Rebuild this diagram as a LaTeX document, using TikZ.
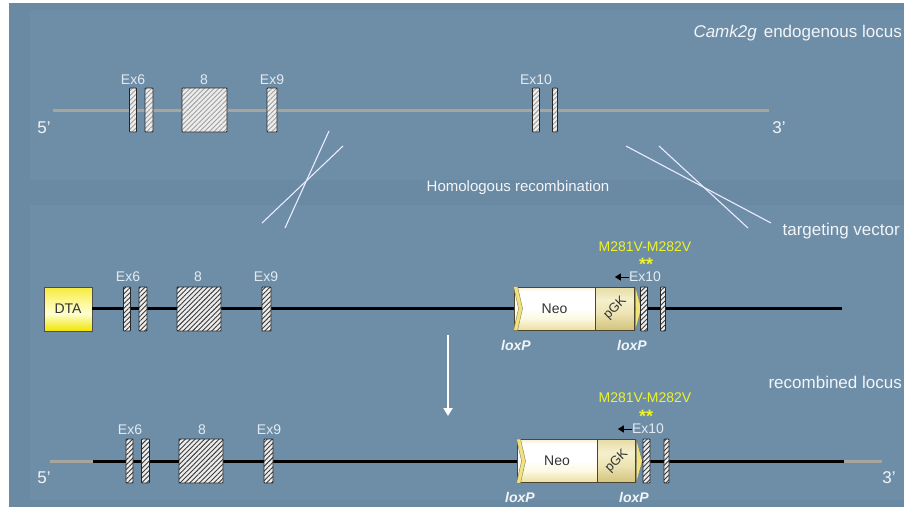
\documentclass[tikz,border=0pt]{standalone}
\usepackage{fontspec}
\setmainfont{Liberation Sans}
\usetikzlibrary{patterns.meta,arrows.meta,calc}
\definecolor{bg}{HTML}{6A8AA4}
\definecolor{panel}{HTML}{6E8EA8}
\definecolor{labcol}{HTML}{E4EAF0}
\definecolor{whitetxt}{HTML}{F2F5F8}
\definecolor{ylw}{RGB}{240,242,40}
\definecolor{greyline}{HTML}{A8A49E}
\definecolor{exfill}{HTML}{EDEDED}
\definecolor{exdark}{HTML}{3A3A3A}
\definecolor{olive}{HTML}{4A4630}
\definecolor{loxy}{HTML}{F2E27A}
\definecolor{dtaA}{RGB}{240,228,0}
\definecolor{dtaB}{RGB}{255,255,210}
\definecolor{dtaC}{RGB}{252,246,140}
\definecolor{dtaD}{RGB}{245,235,60}
\definecolor{neoA}{RGB}{237,222,160}
\definecolor{neoB}{RGB}{252,248,225}
\definecolor{neoC}{RGB}{255,255,255}
\definecolor{neoD}{RGB}{247,240,210}
\definecolor{pgkA}{RGB}{210,195,125}
\definecolor{pgkB}{RGB}{237,228,180}
\definecolor{pgkC}{RGB}{245,240,205}
\definecolor{pgkD}{RGB}{230,220,165}
\pgfdeclareverticalshading{dtashade}{100bp}{%
  color(0bp)=(dtaA); color(25bp)=(dtaA); color(45bp)=(dtaB);
  color(60bp)=(dtaC); color(75bp)=(dtaD); color(100bp)=(dtaD)}
\pgfdeclareverticalshading{neoshade}{100bp}{%
  color(0bp)=(neoA); color(25bp)=(neoA); color(38bp)=(neoB);
  color(50bp)=(neoC); color(70bp)=(neoC); color(75bp)=(neoD); color(100bp)=(neoD)}
\pgfdeclareverticalshading{pgkshade}{100bp}{%
  color(0bp)=(pgkA); color(25bp)=(pgkA); color(45bp)=(pgkB);
  color(60bp)=(pgkC); color(75bp)=(pgkD); color(100bp)=(pgkD)}
\tikzset{
  exon/.style={draw=black!85, line width=0.9pt, rounded corners=0.8pt, inner sep=0pt,
    minimum height=44pt, preaction={fill=exfill},
    pattern={Lines[angle=45,distance=3.4pt,line width=0.9pt]}, pattern color=exdark},
  topexon/.style={exon, pattern color=gray!75},
  exlab/.style={text=labcol, font=\fontsize{14}{14}\selectfont, inner sep=0pt},
  endlab/.style={text=whitetxt, font=\fontsize{17}{17}\selectfont, inner sep=0pt},
  biglab/.style={text=whitetxt, font=\fontsize{17}{17}\selectfont, inner sep=0pt},
  mutlab/.style={text=ylw, font=\fontsize{14}{14}\selectfont, inner sep=0pt},
  starlab/.style={text=ylw, font=\bfseries\fontsize{18}{18}\selectfont, inner sep=0pt},
  loxlab/.style={text=whitetxt, font=\bfseries\itshape\fontsize{14}{14}\selectfont, inner sep=0pt},
  grayDNA/.style={draw=greyline, line width=3pt},
  blackDNA/.style={draw=black, line width=3pt},
  cross/.style={draw=white!92!blue, line width=1.1pt},
  neobox/.style={draw=olive, line width=0.9pt, inner sep=0pt, minimum height=43pt,
    shading=neoshade, text=black!80, font=\fontsize{14}{14}\selectfont},
  pgkbox/.style={draw=olive, line width=0.9pt, inner sep=0pt, minimum height=43pt,
    shading=pgkshade},
  pgklab/.style={rotate=45, inner sep=0pt, text=black!80, font=\fontsize{13}{13}\selectfont},
  dtabox/.style={draw=black!70, line width=0.9pt, inner sep=0pt, minimum width=48pt, minimum height=44pt,
    shading=dtashade, text=black!80, font=\fontsize{14}{14}\selectfont},
  loxshape/.style={fill=loxy, draw=olive!70, line width=0.4pt},
  smallarrow/.style={draw=black, line width=1pt, -{Triangle[length=6pt,width=7pt]}},
  bigarrow/.style={draw=white, line width=2pt, -{Triangle[length=8pt,width=9pt]}}
}
\begin{document}
\begin{tikzpicture}[x=1pt,y=-1pt]
\useasboundingbox (0,0) rectangle (904,514);
% background
\fill[white] (0,0) rectangle (904,514);
\fill[bg] (9,3) rectangle (904,507);
\fill[panel] (30,10) rectangle (904,180);
\fill[panel] (30,205) rectangle (904,500);

% ---------- endogenous locus ----------
\node[anchor=east, biglab] (title) at (902,33) {\textit{Camk2g}\hspace{7pt}endogenous locus};
\coordinate (t5end) at (53,110);
\coordinate (t3end) at (769,110);
\draw[grayDNA] (t5end) -- (t3end);
\node[endlab] (t5) at (44,128) {5'};
\node[endlab] (t3) at (779,128) {3'};
\node[topexon, minimum width=7pt] (t6a) at (133,110) {};
\node[topexon, minimum width=8pt] (t6b) at (149,110) {};
\node[topexon, minimum width=45pt] (t8) at (204.5,110) {};
\node[topexon, minimum width=10pt] (t9) at (272,110) {};
\node[topexon, minimum width=7pt] (t10a) at (536,110) {};
\node[topexon, minimum width=5pt] (t10b) at (555,110) {};
\node[exlab] (lt6) at (133,80) {Ex6};
\node[exlab] (lt8) at (204,80) {8};
\node[exlab] (lt9) at (272,80) {Ex9};
\node[exlab] (lt10) at (536,80) {Ex10};

% crossing lines
\coordinate (c1a) at (329,131); \coordinate (c1b) at (285,228);
\coordinate (c2a) at (343,146); \coordinate (c2b) at (262,223);
\coordinate (c3a) at (626,146); \coordinate (c3b) at (771,223);
\coordinate (c4a) at (659,146); \coordinate (c4b) at (748,228);
\draw[cross] (c1a) -- (c1b);
\draw[cross] (c2a) -- (c2b);
\draw[cross] (c3a) -- (c3b);
\draw[cross] (c4a) -- (c4b);
\node[text=whitetxt, font=\fontsize{15}{15}\selectfont, inner sep=0pt] (hr) at (518,188) {Homologous recombination};
\node[anchor=east, biglab] (tv) at (900,231) {targeting vector};

% ---------- targeting vector ----------
\node[dtabox] (dta) at (68,309) {DTA};
\coordinate (m3end) at (842,308);
\draw[blackDNA] (dta.east |- 0,308) -- (m3end);
\node[exon, minimum width=7pt] (m6a) at (127,309) {};
\node[exon, minimum width=8pt] (m6b) at (143,309) {};
\node[exon, minimum width=44pt] (m8) at (199,309) {};
\node[exon, minimum width=9pt] (m9) at (266.5,309) {};
\node[neobox, minimum width=81pt] (mneo) at (554.5,308.5) {Neo};
\node[pgkbox, minimum width=39pt, anchor=west] (mpgk) at (mneo.east) {};
\node[pgklab] (mpgkt) at (mpgk.center) {pGK};
\fill[loxshape] (mneo.north west) -- ++(4,0) -- ([xshift=9pt]mneo.west) -- ([xshift=4pt]mneo.south west) -- (mneo.south west) -- ([xshift=5pt]mneo.west) -- cycle;
\fill[loxshape] (mpgk.north east) -- ([xshift=6pt]mpgk.east) -- (mpgk.south east) -- cycle;
\node[exon, minimum width=7pt] (m10a) at (644,309) {};
\node[exon, minimum width=5pt] (m10b) at (663,309) {};
\node[exlab] (lm6) at (128,277) {Ex6};
\node[exlab] (lm8) at (198,277) {8};
\node[exlab] (lm9) at (266,277) {Ex9};
\node[exlab] (lm10) at (645,277) {Ex10};
\draw[smallarrow] (lm10.west) -- ++(-14,0);
\node[starlab] (ms) at (646,264) {**};
\node[mutlab] (mm) at (645,247) {M281V-M282V};
\node[loxlab] (mlx1) at (516,345) {loxP};
\node[loxlab] (mlx2) at (632,345) {loxP};

% arrow
\coordinate (arA) at (448,335);
\coordinate (arB) at (448,416);
\draw[bigarrow] (arA) -- (arB);

% ---------- recombined locus ----------
\node[anchor=east, biglab] (rl) at (902,382) {recombined locus};
\coordinate (b5end) at (50,461);
\coordinate (b5j) at (93,461);
\coordinate (b3j) at (844,461);
\coordinate (b3end) at (882,461);
\draw[grayDNA] (b5end) -- (b5j);
\draw[blackDNA] (b5j) -- (b3j);
\draw[grayDNA] (b3j) -- (b3end);
\node[endlab] (b5) at (44,478) {5'};
\node[endlab] (b3) at (889,478) {3'};
\node[exon, minimum width=7pt] (b6a) at (129.5,461) {};
\node[exon, minimum width=8pt] (b6b) at (145.5,461) {};
\node[exon, minimum width=44pt] (b8) at (201,461) {};
\node[exon, minimum width=9pt] (b9) at (268.5,461) {};
\node[neobox, minimum width=80pt] (bneo) at (557,461) {Neo};
\node[pgkbox, minimum width=38pt, anchor=west] (bpgk) at (bneo.east) {};
\node[pgklab] (bpgkt) at (bpgk.center) {pGK};
\fill[loxshape] (bneo.north west) -- ++(4,0) -- ([xshift=9pt]bneo.west) -- ([xshift=4pt]bneo.south west) -- (bneo.south west) -- ([xshift=5pt]bneo.west) -- cycle;
\fill[loxshape] (bpgk.north east) -- ([xshift=6pt]bpgk.east) -- (bpgk.south east) -- cycle;
\node[exon, minimum width=7pt] (b10a) at (646.5,461) {};
\node[exon, minimum width=5pt] (b10b) at (666.5,461) {};
\node[exlab] (lb6) at (130,430) {Ex6};
\node[exlab] (lb8) at (202,430) {8};
\node[exlab] (lb9) at (269,430) {Ex9};
\node[exlab] (lb10) at (648,429) {Ex10};
\draw[smallarrow] (lb10.west) -- ++(-14,0);
\node[starlab] (bs) at (646,416) {**};
\node[mutlab] (bm) at (645,398) {M281V-M282V};
\node[loxlab] (blx1) at (520,497) {loxP};
\node[loxlab] (blx2) at (634,497) {loxP};
\end{tikzpicture}
\end{document}
